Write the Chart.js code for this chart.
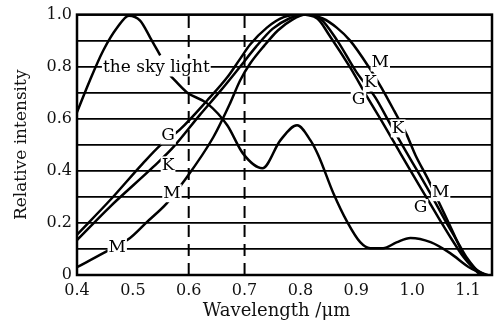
<!DOCTYPE html>
<html>
<head>
<title>Relative intensity vs wavelength</title>
<script src="https://cdn.jsdelivr.net/npm/chart.js@4.4.0/dist/chart.umd.min.js"></script>
<style>
    html, body {
        margin: 0;
        padding: 0;
        background: #fff;
    }
    .chart-container {
        width: 503px;
        height: 326px;
    }
</style>
</head>
<body>
<div class="chart-container">
    <canvas id="spectrumChart"></canvas>
</div>
<script>
// wavelength (um) / relative intensity
const skyX = [0.40, 0.423, 0.447, 0.472, 0.493, 0.513, 0.531, 0.549, 0.558, 0.567, 0.597, 0.633, 0.669, 0.697, 0.732, 0.764, 0.794, 0.818, 0.832, 0.859, 0.884, 0.907, 0.925, 0.948, 0.972, 0.997, 1.033, 1.068, 1.104, 1.135];
const skyY = [0.625, 0.747, 0.862, 0.95, 0.996, 0.977, 0.912, 0.843, null, 0.766, 0.701, 0.659, 0.575, 0.467, 0.41, 0.517, 0.575, 0.517, 0.46, 0.314, 0.203, 0.126, 0.103, 0.103, 0.125, 0.142, 0.126, 0.084, 0.027, 0];

const gX = [0.40, 0.459, 0.518, 0.549, 0.585, 0.633, 0.669, 0.692, 0.71, 0.74, 0.77, 0.80, 0.83, 0.852, 0.889, 0.92, 0.95, 0.979, 1.0, 1.025, 1.05, 1.07, 1.092, 1.11, 1.122];
const gY = [0.155, 0.287, 0.429, 0.498, 0.56, 0.67, 0.759, 0.83, 0.885, 0.95, 0.99, 1.0, 0.985, 0.92, 0.797, 0.682, 0.575, 0.467, 0.39, 0.30, 0.21, 0.14, 0.069, 0.025, 0];

const kX = [0.40, 0.459, 0.536, 0.572, 0.62, 0.656, 0.692, 0.72, 0.75, 0.78, 0.805, 0.835, 0.866, 0.90, 0.934, 0.962, 0.991, 1.012, 1.036, 1.059, 1.078, 1.097, 1.113, 1.125];
const kY = [0.134, 0.262, 0.414, 0.49, 0.615, 0.705, 0.80, 0.875, 0.945, 0.985, 1.0, 0.985, 0.90, 0.78, 0.682, 0.575, 0.467, 0.39, 0.30, 0.21, 0.14, 0.069, 0.025, 0];

const mX = [0.40, 0.447, 0.495, 0.525, 0.561, 0.59, 0.644, 0.674, 0.692, 0.71, 0.735, 0.76, 0.785, 0.81, 0.84, 0.865, 0.889, 0.922, 0.945, 0.968, 0.99, 1.006, 1.028, 1.05, 1.072, 1.092, 1.11, 1.13];
const mY = [0.03, 0.084, 0.142, 0.203, 0.276, 0.356, 0.529, 0.659, 0.747, 0.812, 0.88, 0.94, 0.98, 1.0, 0.985, 0.95, 0.90, 0.80, 0.72, 0.63, 0.54, 0.46, 0.37, 0.27, 0.17, 0.08, 0.03, 0];

const dashedAt = [0.6, 0.7];

const xTicks = [0.4, 0.5, 0.6, 0.7, 0.8, 0.9, 1.0, 1.1];
const xTickText = ['0.4', '0.5', '0.6', '0.7', '0.8', '0.9', '1.0', '1.1'];
const yTicks = [0, 0.1, 0.2, 0.3, 0.4, 0.5, 0.6, 0.7, 0.8, 0.9, 1.0];
const yTickText = ['0', '', '0.2', '', '0.4', '', '0.6', '', '0.8', '', '1.0'];

// curve labels: text, wavelength, intensity
const labelText = ['the sky light', 'G', 'K', 'M', 'M', 'M', 'K', 'G', 'K', 'M', 'G'];
const labelX = [0.542, 0.563, 0.563, 0.570, 0.472, 0.943, 0.925, 0.904, 0.975, 1.051, 1.015];
const labelY = [0.797, 0.536, 0.421, 0.314, 0.107, 0.816, 0.739, 0.674, 0.563, 0.318, 0.257];

const xTitle = 'Wavelength /\u03bcm';
const yTitle = 'Relative intensity';

const SERIF = "'DejaVu Serif', 'Liberation Serif', serif";

function points(xs, ys) {
    return xs.map((x, i) => ({ x: x, y: ys[i] }));
}

function curve(xs, ys) {
    return {
        data: points(xs, ys),
        borderColor: '#000',
        borderWidth: 2.5,
        pointRadius: 0,
        showLine: true,
        cubicInterpolationMode: 'monotone',
        spanGaps: false
    };
}

const datasets = [
    curve(skyX, skyY),
    curve(gX, gY),
    curve(kX, kY),
    curve(mX, mY)
];
dashedAt.forEach(v => {
    datasets.push({
        data: [{ x: v, y: 0 }, { x: v, y: 1 }],
        borderColor: '#000',
        borderWidth: 2,
        borderDash: [12, 7],
        pointRadius: 0,
        showLine: true
    });
});

const labelPlugin = {
    id: 'curveLabels',
    afterDatasetsDraw(chart) {
        const ctx = chart.ctx;
        const xs = chart.scales.x, ys = chart.scales.y;
        const a = chart.chartArea;
        ctx.save();
        ctx.font = '17px ' + SERIF;
        ctx.textAlign = 'center';
        ctx.textBaseline = 'middle';
        labelText.forEach((t, i) => {
            const px = xs.getPixelForValue(labelX[i]);
            const py = ys.getPixelForValue(labelY[i]);
            const w = ctx.measureText(t).width;
            ctx.fillStyle = '#fff';
            ctx.fillRect(px - w / 2 - 1, py - 9, w + 2, 18);
            ctx.fillStyle = '#000';
            ctx.fillText(t, px, py);
        });
        // frame
        ctx.strokeStyle = '#000';
        ctx.lineWidth = 2.5;
        ctx.strokeRect(a.left, a.top, a.right - a.left, a.bottom - a.top);
        // x axis title, sits a little left of the plot centre in the original
        ctx.fillStyle = '#111';
        ctx.font = '18px ' + SERIF;
        ctx.fillText(xTitle, (a.left + a.right) / 2 - 8, 311);
        ctx.restore();
    }
};

new Chart(document.getElementById('spectrumChart').getContext('2d'), {
    type: 'scatter',
    data: { datasets: datasets },
    options: {
        responsive: true,
        maintainAspectRatio: false,
        animation: false,
        devicePixelRatio: 1,
        layout: { padding: { left: 0, top: 14, right: 11, bottom: 0 } },
        plugins: {
            legend: { display: false },
            tooltip: { enabled: false }
        },
        scales: {
            x: {
                type: 'linear',
                min: 0.4,
                max: 1.143,
                afterBuildTicks: s => { s.ticks = xTicks.map(v => ({ value: v })); },
                afterFit: s => { s.height = 51; },
                grid: { display: false, drawTicks: false },
                border: { display: false },
                ticks: {
                    padding: 6,
                    color: '#111',
                    font: { family: SERIF, size: 16 },
                    callback: (v, i) => xTickText[i]
                },
                title: { display: false }
            },
            y: {
                min: 0,
                max: 1.0,
                afterBuildTicks: s => { s.ticks = yTicks.map(v => ({ value: v })); },
                afterFit: s => { s.width = 77; },
                grid: { color: '#000', lineWidth: 1.8, drawTicks: false },
                border: { display: false },
                ticks: {
                    padding: 5,
                    color: '#111',
                    font: { family: SERIF, size: 16 },
                    autoSkip: false,
                    callback: (v, i) => yTickText[i]
                },
                title: {
                    display: true,
                    text: yTitle,
                    color: '#111',
                    font: { family: SERIF, size: 17 },
                    padding: { top: 11, bottom: 0 }
                }
            }
        }
    },
    plugins: [labelPlugin]
});
</script>
</body>
</html>
